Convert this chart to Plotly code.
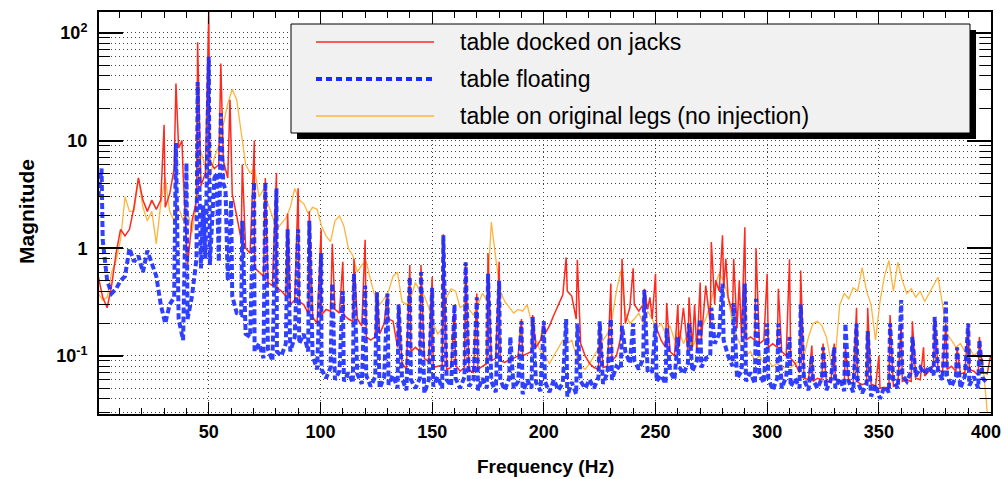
import plotly.graph_objects as go

# ---------------- data ----------------
# baseline spectra sampled every 2 Hz starting at 0.5 Hz
base_start_hz = 0.5
base_step_hz = 2.0

red_base = [
    0.55, 0.35, 0.28, 0.45, 0.9, 1.5, 1.3, 1.5, 2.4, 4.5,
    2.8, 2.2, 2.8, 2.3, 2.8, 2.4, 3.2, 5.5, 8.5, 5.0,
    0.7, 1.8, 2.8, 3.8, 5.0, 6.5, 5.5, 6.0, 6.5, 4.5,
    3.2, 2.0, 1.2, 1.0, 0.9, 0.66, 0.6, 0.55, 0.48, 0.45,
    0.43, 0.4, 0.36, 0.3, 0.33, 0.32, 0.3, 0.25, 0.23, 0.2,
    0.24, 0.27, 0.26, 0.27, 0.25, 0.24, 0.22, 0.21, 0.22, 0.19,
    0.15, 0.14, 0.15, 0.16, 0.2, 0.22, 0.21, 0.12, 0.085, 0.076,
    0.11, 0.12, 0.11, 0.095, 0.088, 0.078, 0.08, 0.082, 0.075, 0.078,
    0.082, 0.072, 0.078, 0.074, 0.07, 0.075, 0.08, 0.085, 0.09, 0.095,
    0.09, 0.087, 0.092, 0.095, 0.1, 0.1, 0.105, 0.11, 0.12, 0.14,
    0.16, 0.19, 0.24, 0.3, 0.37, 0.4, 0.36, 0.22, 0.13, 0.1,
    0.085, 0.078, 0.075, 0.078, 0.08, 0.09, 0.1, 0.15, 0.2, 0.28,
    0.3, 0.26, 0.3, 0.27, 0.22, 0.18, 0.14, 0.12, 0.11, 0.1,
    0.12, 0.1, 0.11, 0.12, 0.11, 0.14, 0.15, 0.2, 0.3, 0.4,
    0.43, 0.35, 0.25, 0.18, 0.15, 0.14, 0.15, 0.14, 0.13, 0.14,
    0.12, 0.13, 0.12, 0.11, 0.1, 0.095, 0.085, 0.07, 0.062, 0.06,
    0.058, 0.062, 0.06, 0.058, 0.057, 0.06, 0.058, 0.056, 0.058, 0.055,
    0.057, 0.054, 0.056, 0.055, 0.052, 0.05, 0.051, 0.049, 0.052, 0.055,
    0.058, 0.06, 0.058, 0.062, 0.06, 0.065, 0.072, 0.08, 0.075, 0.07,
    0.075, 0.08, 0.072, 0.068, 0.07, 0.075, 0.072, 0.066, 0.07, 0.068,
]

blue_base = [
    3.0, 1.2, 0.5, 0.38, 0.42, 0.5, 0.55, 1.0, 0.75, 0.85,
    0.6, 0.95, 0.7, 0.55, 0.3, 0.2, 0.3, 0.35, 0.22, 0.14,
    0.22, 0.36, 0.8, 0.65, 0.8, 0.7, 0.9, 0.75, 0.6, 0.5,
    0.36, 0.25, 0.24, 0.16, 0.15, 0.11, 0.13, 0.095, 0.115, 0.09,
    0.11, 0.1, 0.13, 0.11, 0.15, 0.13, 0.16, 0.11, 0.1, 0.075,
    0.075, 0.062, 0.078, 0.06, 0.072, 0.058, 0.07, 0.056, 0.068, 0.055,
    0.066, 0.052, 0.064, 0.05, 0.063, 0.054, 0.066, 0.05, 0.062, 0.048,
    0.06, 0.05, 0.062, 0.045, 0.06, 0.052, 0.064, 0.05, 0.06, 0.053,
    0.062, 0.05, 0.064, 0.052, 0.06, 0.048, 0.062, 0.05, 0.058, 0.046,
    0.06, 0.048, 0.062, 0.05, 0.058, 0.044, 0.06, 0.05, 0.057, 0.047,
    0.058, 0.046, 0.06, 0.048, 0.056, 0.042, 0.057, 0.044, 0.058, 0.05,
    0.06, 0.05, 0.064, 0.055, 0.07, 0.06, 0.08, 0.075, 0.11, 0.085,
    0.09, 0.075, 0.095, 0.07, 0.072, 0.058, 0.066, 0.055, 0.072, 0.06,
    0.08, 0.068, 0.085, 0.072, 0.09, 0.078, 0.095, 0.1, 0.13, 0.16,
    0.14, 0.1, 0.08, 0.062, 0.072, 0.058, 0.07, 0.055, 0.068, 0.056,
    0.062, 0.048, 0.062, 0.05, 0.064, 0.052, 0.062, 0.05, 0.06, 0.048,
    0.06, 0.05, 0.062, 0.048, 0.06, 0.05, 0.062, 0.047, 0.058, 0.046,
    0.058, 0.045, 0.055, 0.042, 0.054, 0.04, 0.052, 0.046, 0.058, 0.05,
    0.066, 0.058, 0.072, 0.065, 0.078, 0.068, 0.08, 0.066, 0.072, 0.06,
    0.066, 0.052, 0.064, 0.05, 0.065, 0.053, 0.064, 0.05, 0.062, 0.056,
]

orange_base = [
    0.38, 0.33, 0.35, 0.6, 0.77, 1.2, 3.0, 2.2, 2.2, 4.5,
    2.4, 1.8, 2.2, 1.1, 2.6, 4.0, 2.2, 1.8, 2.4, 1.8,
    2.2, 1.4, 2.6, 8.0, 5.5, 4.5, 7.0, 9.0, 14.0, 22.0,
    30.0, 24.0, 12.0, 6.0, 5.0, 5.5, 3.0, 3.5, 2.6, 2.0,
    1.5, 1.7, 1.9, 2.4, 3.6, 2.8, 2.6, 2.1, 2.4, 2.3,
    1.6, 1.3, 1.15, 1.8, 2.0, 1.6, 1.0, 0.85, 0.6, 0.7,
    0.75, 0.5, 0.35, 0.3, 0.34, 0.4, 0.55, 0.6, 0.32, 0.3,
    0.35, 0.48, 0.4, 0.36, 0.28, 0.2, 0.16, 0.18, 0.35, 0.42,
    0.4, 0.28, 0.3, 0.27, 0.24, 0.3, 0.38, 0.33, 1.6, 0.8,
    0.4, 0.32, 0.28, 0.25, 0.27, 0.26, 0.3, 0.2, 0.14, 0.11,
    0.1, 0.085, 0.1, 0.12, 0.14, 0.13, 0.14, 0.1, 0.08, 0.075,
    0.085, 0.1, 0.12, 0.14, 0.16, 0.22, 0.4, 0.6, 0.25, 0.2,
    0.22, 0.25, 0.2, 0.26, 0.22, 0.18, 0.2, 0.16, 0.19, 0.14,
    0.17, 0.13, 0.16, 0.12, 0.15, 0.18, 0.22, 0.3, 0.45, 0.58,
    0.5, 0.35, 0.2, 0.15, 0.12, 0.1, 0.11, 0.09, 0.1, 0.085,
    0.09, 0.08, 0.085, 0.075, 0.08, 0.078, 0.085, 0.09, 0.1, 0.15,
    0.2, 0.21, 0.19, 0.15, 0.09, 0.1, 0.3, 0.38, 0.34, 0.43,
    0.4, 0.66, 0.4, 0.3, 0.14, 0.32, 0.55, 0.77, 0.4, 0.74,
    0.5, 0.38, 0.42, 0.35, 0.4, 0.32, 0.38, 0.45, 0.54, 0.3,
    0.16, 0.14, 0.12, 0.13, 0.11, 0.12, 0.1, 0.11, 0.09, 0.03,
]

# narrow resonance lines (frequency in Hz, magnitude)
red_peak_f = [30, 35.3, 38, 45, 50, 55.4, 59.5, 65, 70.4, 75.3,
              80.3, 85.3, 90, 95, 100.3, 105.3, 110, 115, 120, 125.3,
              130, 135, 140, 145, 150, 155, 160, 165, 170, 175,
              180, 190, 195, 200, 210, 215, 225, 230, 235, 240,
              245, 247.5, 250, 255, 260, 262.5, 265, 267.5, 270, 272.5,
              275, 277, 280, 281.5, 285, 287.5, 290, 295, 300, 305,
              310, 315, 320, 325, 330, 335, 340, 345, 350, 355,
              360, 365, 370, 375, 380, 385, 390, 395, 400]
red_peak_v = [14, 34, 10, 82, 160, 52, 24, 6, 10, 4.5,
              5, 2.1, 3.6, 2.2, 1.5, 1.1, 0.75, 0.8, 1.2, 0.39,
              0.38, 0.3, 0.7, 0.7, 0.54, 1.35, 0.3, 0.74, 0.38, 0.9,
              0.75, 0.22, 0.24, 0.2, 0.82, 0.78, 0.2, 0.47, 0.8, 0.65,
              0.42, 0.35, 0.58, 0.31, 0.3, 0.28, 0.35, 0.3, 0.48, 0.45,
              1.14, 0.5, 1.32, 0.8, 0.8, 0.5, 1.57, 1.0, 0.58, 0.42,
              0.79, 0.62, 0.125, 0.13, 0.13, 0.12, 0.28, 0.28, 0.1, 0.24,
              0.2, 0.21, 0.12, 0.23, 0.2, 0.12, 0.2, 0.15, 0.1]

blue_peak_f = [2, 35.3, 40, 45, 47.5, 50, 52.5, 53.5, 55.4, 56.5,
               57.5, 60, 65, 70.3, 75.3, 80.3, 85.3, 90, 95, 100.3,
               105.3, 110, 115, 120, 125.3, 130, 135, 140, 145, 150,
               155, 160, 165, 170, 175, 180, 185, 190, 195, 200,
               210, 215, 225, 230, 235, 240, 245, 250, 255, 260,
               265, 270, 275, 280, 285, 290, 295, 300, 305, 310,
               315, 320, 325, 330, 335, 340, 345, 355, 360, 365,
               375, 380, 385, 390, 395]
blue_peak_v = [5.5, 9.5, 6.2, 35, 2.5, 60, 4.5, 5.0, 18, 4.0,
               3.5, 2.8, 1.8, 4.1, 4.1, 3.6, 1.5, 1.5, 1.8, 0.9,
               0.47, 0.4, 0.58, 0.45, 0.39, 0.38, 0.3, 0.54, 0.6, 0.43,
               1.32, 0.3, 0.74, 0.35, 0.58, 0.5, 0.15, 0.21, 0.23, 0.21,
               0.22, 0.2, 0.21, 0.22, 0.19, 0.2, 0.41, 0.2, 0.18, 0.15,
               0.2, 0.22, 0.28, 0.47, 0.31, 0.47, 0.34, 0.2, 0.2, 0.15,
               0.3, 0.1, 0.12, 0.12, 0.2, 0.2, 0.17, 0.2, 0.33, 0.15,
               0.23, 0.32, 0.12, 0.2, 0.14]

orange_peak_f = [30.5, 176.5, 234.5]
orange_peak_v = [4.5, 1.75, 0.62]

series_names = ["table docked on jacks", "table floating",
                "table on original legs (no injection)"]

y_major_vals = [0.1, 1, 10, 100]
y_major_text = ["10<sup>-1</sup>", "1", "10", "10<sup>2</sup>"]
y_minor_vals = [m * d for d in (0.01, 0.1, 1, 10) for m in range(2, 10)]
x_major_vals = [50, 100, 150, 200, 250, 300, 350, 400]
x_major_text = ["50", "100", "150", "200", "250", "300", "350", ""]
x_last_label = "400"   # drawn right-aligned so it stays inside the page

# ---------------- styling ----------------
RED = "#ff2a1f"
BLUE = "#1a2cff"
ORANGE = "#ffb43c"
FONT = "Liberation Sans"

W, H = 1004, 479
PL, PR, PT, PB = 99, 991, 12, 414   # plot-area pixel box


def merge(fb, vb, fp, vp):
    pts = dict(zip(fb, vb))
    for f, v in zip(fp, vp):
        pts[f] = max(pts.get(f, 0), v)
    keys = sorted(pts)
    return keys, [pts[k] for k in keys]


freq_base = [base_start_hz + base_step_hz * i for i in range(len(red_base))]
rx, ry = merge(freq_base, red_base, red_peak_f, red_peak_v)
bx, by = merge(freq_base, blue_base, blue_peak_f, blue_peak_v)
ox, oy = merge(freq_base, orange_base, orange_peak_f, orange_peak_v)

fig = go.Figure()
fig.add_trace(go.Scatter(x=ox, y=oy, mode="lines", name=series_names[2],
                         line=dict(color=ORANGE, width=1.3)))
fig.add_trace(go.Scatter(x=rx, y=ry, mode="lines", name=series_names[0],
                         line=dict(color=RED, width=1.5)))
fig.add_trace(go.Scatter(x=bx, y=by, mode="lines", name=series_names[1],
                         opacity=0.9,
                         line=dict(color=BLUE, width=4, dash="6px,3px")))

GRID = dict(showgrid=True, gridcolor="#444444", gridwidth=1, griddash="1px,3px")

fig.update_xaxes(
    range=[0.85, 400.2], tickmode="array", tickvals=x_major_vals,
    ticktext=x_major_text,
    ticks="inside", ticklen=12, tickwidth=1.2, tickcolor="black",
    showline=True, linecolor="black", linewidth=2, mirror="ticks",
    tickfont=dict(family=FONT, size=18, color="black", weight="bold"),
    automargin=False,
    minor=dict(dtick=10, tick0=0, ticks="inside", ticklen=6, tickcolor="black",
               tickwidth=1, showgrid=False),
    zeroline=False, **GRID,
)
fig.update_yaxes(
    type="log", range=[-1.54, 2.195], tickmode="array",
    tickvals=y_major_vals, ticktext=y_major_text,
    ticks="inside", ticklen=24, tickwidth=1.5, tickcolor="black",
    showline=True, linecolor="black", linewidth=2, mirror="ticks",
    tickfont=dict(family=FONT, size=18, color="black", weight="bold"),
    ticklabelstandoff=6, automargin=False,
    minor=dict(tickmode="array", tickvals=y_minor_vals, ticks="inside",
               ticklen=11, tickcolor="black", tickwidth=1,
               showgrid=True, gridcolor="#444444", griddash="1px,3px"),
    zeroline=False, **GRID,
)


def px_x(px):
    return (px - PL) / (PR - PL)


def px_y(py):
    return (PB - py) / (PB - PT)


shapes = []
# legend shadow and box (ROOT style)
shapes.append(dict(type="rect", xref="paper", yref="paper", layer="above",
                   x0=px_x(297), x1=px_x(976), y0=px_y(139), y1=px_y(30),
                   fillcolor="black", line=dict(width=0)))
shapes.append(dict(type="rect", xref="paper", yref="paper", layer="above",
                   x0=px_x(291), x1=px_x(970), y0=px_y(133), y1=px_y(24),
                   fillcolor="#f1f1f1", line=dict(color="black", width=1)))
legend_rows = [(42, RED, 1.5, "solid"), (79, BLUE, 4, "6px,4px"),
               (116, ORANGE, 1.5, "solid")]
annotations = []
for (yy, col, wdt, dsh), name in zip(legend_rows, series_names):
    shapes.append(dict(type="line", xref="paper", yref="paper", layer="above",
                       x0=px_x(316), x1=px_x(434), y0=px_y(yy), y1=px_y(yy),
                       line=dict(color=col, width=wdt, dash=dsh)))
    annotations.append(dict(xref="paper", yref="paper", x=px_x(458), y=px_y(yy),
                            xanchor="left", yanchor="middle", showarrow=False,
                            text=name,
                            font=dict(family=FONT, size=23, color="black")))

# last x tick label, kept inside the page edge
annotations.append(dict(xref="paper", yref="paper", x=px_x(1003), y=px_y(432),
                        xanchor="right", yanchor="middle", showarrow=False,
                        text=x_last_label,
                        font=dict(family=FONT, size=18, color="black", weight="bold")))

annotations.append(dict(xref="paper", yref="paper", x=px_x(545), y=px_y(466),
                        xanchor="center", yanchor="middle", showarrow=False,
                        text="Frequency (Hz)",
                        font=dict(family=FONT, size=19, color="black", weight="bold")))
annotations.append(dict(xref="paper", yref="paper", x=px_x(27), y=px_y(212),
                        xanchor="center", yanchor="middle", showarrow=False,
                        textangle=-90, text="Magnitude",
                        font=dict(family=FONT, size=21, color="black", weight="bold")))

fig.update_layout(
    width=W, height=H,
    margin=dict(l=PL, r=W - PR, t=PT, b=H - PB, pad=0, autoexpand=False),
    paper_bgcolor="white", plot_bgcolor="white",
    showlegend=False, shapes=shapes, annotations=annotations,
)

fig.write_html("out.html")
